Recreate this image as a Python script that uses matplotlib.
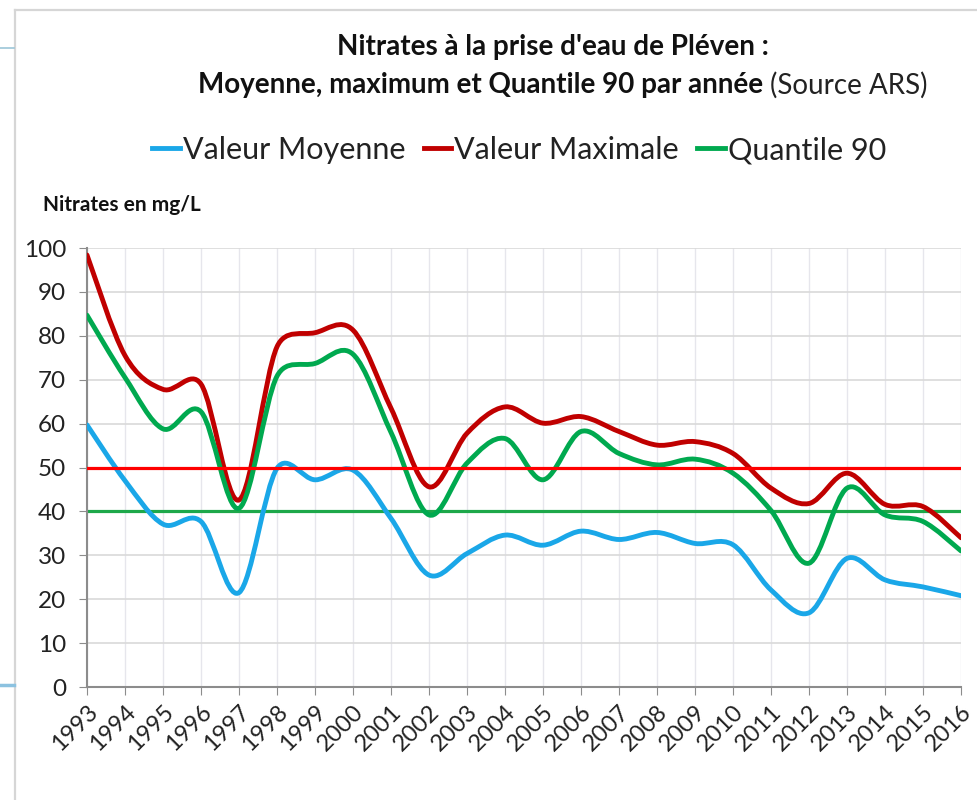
import matplotlib.pyplot as plt
import numpy as np
from matplotlib.path import Path
from matplotlib.patches import PathPatch
from matplotlib.lines import Line2D

plt.rcParams['font.family'] = ['Lato', 'DejaVu Sans']

years = list(range(1993, 2017))
moyenne = [59.7, 47, 37.1, 37.7, 21.5, 49.8, 47.2, 49.4, 38.4, 25.5, 30.4, 34.6,
           32.3, 35.5, 33.6, 35.2, 32.7, 32.4, 22.1, 16.9, 29.3, 24.4, 22.8, 20.8]
maximum = [98.4, 75.5, 67.8, 69.0, 42.6, 77.5, 80.7, 81.3, 63.5, 45.6, 57.8, 63.8,
           60.1, 61.6, 58.2, 55.1, 55.9, 53.2, 45.3, 41.8, 48.7, 41.6, 41.1, 34.0]
quantile90 = [84.7, 70.5, 58.8, 62.7, 40.7, 70.8, 73.7, 75.8, 58.0, 39.2, 51.0, 56.6,
              47.2, 58.2, 53.2, 50.6, 51.9, 48.7, 40.2, 28.2, 45.3, 39.2, 37.7, 31.0]
seuil_rouge = 50
seuil_vert = 40

c_blue = '#1AA7E8'
c_red = '#C00000'
c_green = '#00A94F'


def smooth_path(ax, x, y):
    # Excel-like smoothed line: bezier through every point, handles worked
    # out in screen space and kept under half of the segment length
    tr = ax.transData
    p = tr.transform(np.column_stack([x, y]).astype(float))
    ext = np.vstack([p[0], p, p[-1]])
    verts = [p[0]]
    codes = [Path.MOVETO]
    for i in range(len(p) - 1):
        a, b, c, d = ext[i], ext[i + 1], ext[i + 2], ext[i + 3]
        seg = np.hypot(*(c - b))
        t1 = (c - a) / 6
        t2 = (d - b) / 6
        n1, n2 = np.hypot(*t1), np.hypot(*t2)
        if n1 > seg / 2:
            t1 = t1 * (seg / 2) / n1
        if n2 > seg / 2:
            t2 = t2 * (seg / 2) / n2
        verts += [b + t1, c - t2, c]
        codes += [Path.CURVE4] * 3
    verts = tr.inverted().transform(np.array(verts))
    return Path(verts, codes)


fig = plt.figure(figsize=(9.78, 8), dpi=100)
ax = fig.add_axes([87 / 978, 113 / 800, (961 - 87) / 978, (687 - 248) / 800])
ax.set_xlim(years[0], years[-1])
ax.set_ylim(0, 100)

ax.axhline(seuil_vert, color='#1DA84A', lw=2.3, zorder=2)
for vals, col in [(moyenne, c_blue), (maximum, c_red), (quantile90, c_green)]:
    ax.add_patch(PathPatch(smooth_path(ax, years, vals), fill=False, edgecolor=col,
                           lw=3.5, capstyle='round', joinstyle='round', zorder=3))
ax.axhline(seuil_rouge, color='#FF0000', lw=2.3, zorder=4)

ax.set_xticks(years)
ax.set_xticklabels([str(y) for y in years], rotation=45, ha='right',
                   rotation_mode='anchor', fontsize=17, color='#222222')
ax.set_yticks(range(0, 101, 10))
ax.tick_params(axis='y', labelsize=17.5, colors='#222222', length=6, color='#8C8C8C', pad=9)
ax.tick_params(axis='x', length=6, color='#8C8C8C', pad=4)
ax.grid(axis='y', color='#D9D9D9', lw=1.2, zorder=0)
ax.grid(axis='x', color='#E6E6EC', lw=1.0, zorder=0)
ax.set_axisbelow(True)
for s in ['top', 'right']:
    ax.spines[s].set_visible(False)
for s in ['left', 'bottom']:
    ax.spines[s].set_color('#8C8C8C')
    ax.spines[s].set_linewidth(1.5)

fig.text(553 / 978, 1 - 47 / 800, "Nitrates à la prise d'eau de Pléven :",
         ha='center', va='center', fontsize=20, fontweight='bold', color='#111111')
fig.text(763 / 978, 1 - 85 / 800, "Moyenne, maximum et Quantile 90 par année",
         ha='right', va='center', fontsize=20, fontweight='bold', color='#111111')
fig.text(770 / 978, 1 - 85 / 800, "(Source ARS)",
         ha='left', va='center', fontsize=20, color='#222222')
fig.text(43 / 978, 1 - 205 / 800, "Nitrates en mg/L", ha='left', va='center',
         fontsize=15, fontweight='bold', color='#111111')

handles = [Line2D([], [], color=c, lw=3.5) for c in (c_blue, c_red, c_green)]
fig.legend(handles, ['Valeur Moyenne', 'Valeur Maximale', 'Quantile 90'],
           loc='center', bbox_to_anchor=(519 / 978, 1 - 150 / 800), ncol=3,
           frameon=False, fontsize=22, handlelength=0.9, handletextpad=0.1,
           columnspacing=0.6, labelcolor='#222222')

# slide frame around the chart
fig.add_artist(Line2D([15 / 978, 1], [1 - 10 / 800, 1 - 10 / 800],
                      transform=fig.transFigure, color='#D6D6D6', lw=1.6))
fig.add_artist(Line2D([15 / 978, 15 / 978], [0, 1 - 10 / 800],
                      transform=fig.transFigure, color='#D6D6D6', lw=1.6))
fig.add_artist(Line2D([0, 14 / 978], [1 - 48 / 800, 1 - 48 / 800],
                      transform=fig.transFigure, color='#9CC6D8', lw=1.2))
fig.add_artist(Line2D([0, 14 / 978], [1 - 685 / 800, 1 - 685 / 800],
                      transform=fig.transFigure, color='#8CC2E0', lw=2.5))

fig.savefig('out.png', dpi=100)
